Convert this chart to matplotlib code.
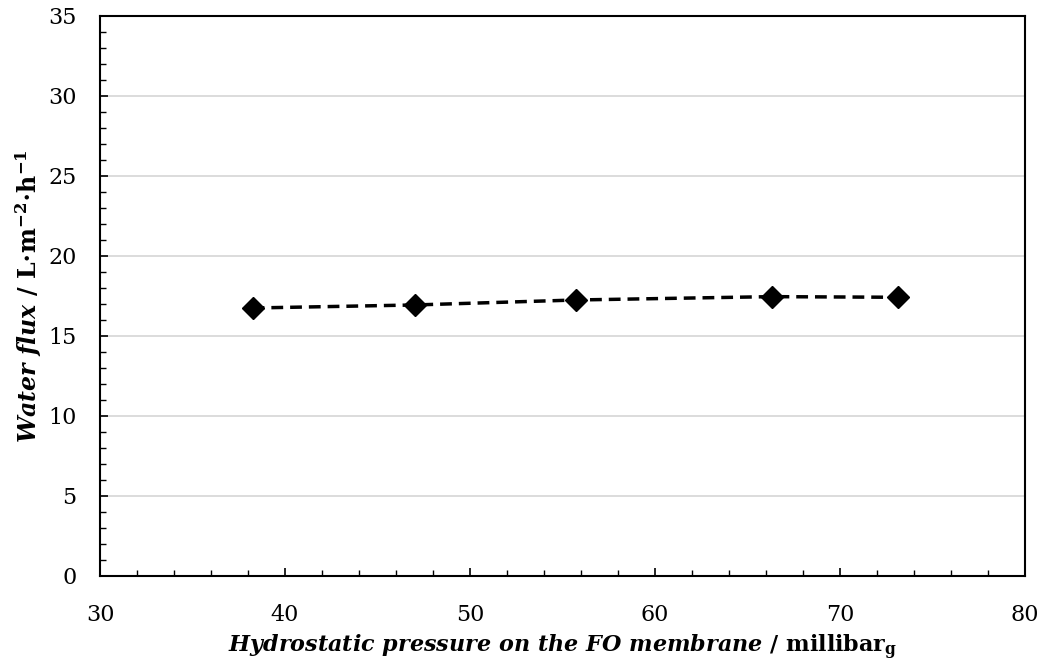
import numpy as np
import matplotlib
matplotlib.use('Agg')
import matplotlib.pyplot as plt
from matplotlib.ticker import MultipleLocator

# hydrostatic pressure (millibar_g) vs measured water flux (L m^-2 h^-1)
pressure = [38.25, 47.03, 55.71, 66.3, 73.15]
water_flux = [16.75, 16.94, 17.25, 17.46, 17.42]

plt.rcParams['font.family'] = ['DejaVu Serif']
plt.rcParams['mathtext.fontset'] = 'custom'
plt.rcParams['mathtext.it'] = 'DejaVu Serif:italic:bold'
plt.rcParams['mathtext.bf'] = 'DejaVu Serif:bold'
plt.rcParams['mathtext.rm'] = 'DejaVu Serif:bold'
plt.rcParams['mathtext.default'] = 'bf'

fig = plt.figure(figsize=(10.44, 6.69), dpi=100)
ax = fig.add_axes([100 / 1044, 1 - 576 / 669, 925 / 1044, 560 / 669])

ax.plot(pressure, water_flux, color='black', linestyle=(0, (3.4, 2.0)), linewidth=2.5,
        marker='D', markersize=11.5, markerfacecolor='black', markeredgecolor='black', zorder=3)

ax.set_xlim(30, 80)
ax.set_ylim(0, 35)
ax.xaxis.set_major_locator(MultipleLocator(10))
ax.xaxis.set_minor_locator(MultipleLocator(2))
ax.yaxis.set_major_locator(MultipleLocator(5))
ax.yaxis.set_minor_locator(MultipleLocator(1))

ax.grid(axis='y', which='major', color='#d9d9d9', linewidth=1.3, zorder=0)
ax.set_axisbelow(True)

for side in ['left', 'right', 'top', 'bottom']:
    ax.spines[side].set_linewidth(1.5)
    ax.spines[side].set_color('black')

ax.tick_params(which='major', direction='in', length=5.5, width=1.2, labelsize=16)
ax.tick_params(axis='x', which='major', pad=20)
ax.tick_params(axis='y', which='major', pad=17)
ax.tick_params(which='minor', direction='in', length=4, width=1.0)

ax.set_xlabel(r"$\mathit{Hydrostatic\ pressure\ on\ the\ FO\ membrane}$ / millibar$_{\mathbf{g}}$",
              fontsize=16, fontweight='bold', labelpad=5)
ax.set_ylabel(r"$\mathit{Water\ flux}$ / L$\cdot$m$^{\mathbf{-2}}$$\cdot$h$^{\mathbf{-1}}$",
              fontsize=17, fontweight='bold', labelpad=3)

plt.savefig("out.png", dpi=100)
plt.close()
